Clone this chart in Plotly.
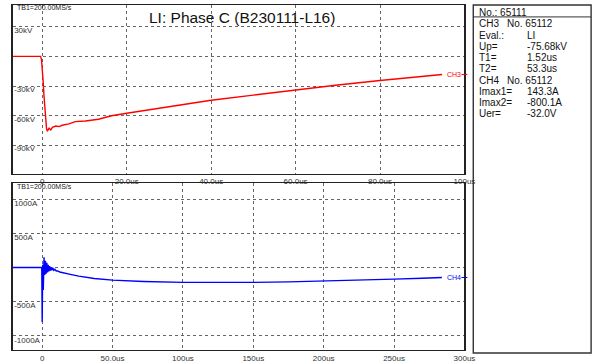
import plotly.graph_objects as go

W, H = 608, 363

# ---------------- data ----------------
t_ch3 = [-7, -0.4, -0.2, 0.0, 0.2, 0.4, 0.6, 0.8, 1.0, 1.2, 1.6, 2.0, 2.4, 3.2, 4.0, 4.7,
         6.3, 7.8, 10.2, 13.3, 16.4, 20, 30, 40, 50, 60, 70, 80, 90, 94.7]
v_ch3 = [0, 0, -3, -12, -25, -40, -55, -67, -73, -75.7, -72.7, -74.4, -71.7, -70.4, -71, -69.7,
         -68.3, -66, -65.3, -63.6, -60, -57.5, -51, -44.4, -39.2, -33.9, -29, -24.4, -20.3, -18.3]

t_ch4 = [-21, -0.3, 0.0, 0.4, 0.8, 1.3, 1.8, 2.3, 2.8, 3.3, 3.8, 4.3, 4.8, 5.3, 5.8, 6.3, 6.8,
         7.5, 8.2, 9.0, 10, 11, 12.5, 14, 20, 26, 37, 50, 72, 100, 125, 150, 175, 200, 225,
         250, 270, 284]
i_ch4 = [0, 0, -800, 40, -330, 150, -110, 100, -90, 70, -70, 40, -55, 20, -45, 5, -40,
         -5, -40, -25, -50, -50, -65, -73, -100, -126, -160, -184, -204, -218, -222, -218,
         -210, -199, -186, -170, -157, -146]

x1_ticks = [0, 20, 40, 60, 80, 100]
x1_text = ["0", "20.0us", "40.0us", "60.0us", "80.0us", "100us"]
y1_ticks = [30, 0, -30, -60, -90]
y1_text = ["30kV", "", "-30kV", "-60kV", "-90kV"]

x2_ticks = [0, 50, 100, 150, 200, 250, 300]
x2_text = ["0", "50.0us", "100us", "150us", "200us", "250us", "300us"]
y2_ticks = [1000, 500, 0, -500, -1000]
y2_text = ["1000A", "500A", "", "-500A", "-1000A"]

title = "LI: Phase C (B230111-L16)"
header = "TB1=200.00MS/s"
panel_left = ["CH3", "Eval.:", "Up=", "T1=", "T2=", "CH4", "Imax1=", "Imax2=", "Uer="]
panel_right = ["No. 65112", "LI", "-75.68kV", "1.52us", "53.3us", "No. 65112", "143.3A", "-800.1A", "-32.0V"]
panel_top = "No.: 65111"

# ---------------- layout helpers ----------------
def px(x):
    return x / W

def py(y):
    return 1 - y / H

FONT = "Arial, Liberation Sans, sans-serif"

fig = go.Figure()
fig.add_trace(go.Scatter(x=t_ch3, y=v_ch3, mode="lines", line=dict(color="#ff0000", width=1.4),
                         xaxis="x", yaxis="y", showlegend=False, hoverinfo="skip"))
fig.add_trace(go.Scatter(x=t_ch4, y=i_ch4, mode="lines", line=dict(color="#0000ff", width=1.4),
                         xaxis="x2", yaxis="y2", showlegend=False, hoverinfo="skip"))

common_x = dict(showgrid=True, gridcolor="#666", griddash="dot", gridwidth=1,
                zeroline=False, showline=True, linecolor="#222", linewidth=1.3, mirror=True,
                ticks="", tickfont=dict(family=FONT, size=8, color="#333"), tickmode="array")
common_y = dict(showgrid=True, gridcolor="#666", griddash="dot", gridwidth=1,
                zeroline=False, showline=True, linecolor="#222", linewidth=1.3, mirror=True,
                ticks="", tickfont=dict(family=FONT, size=8, color="#333"), tickmode="array",
                ticklabelposition="inside", ticklabelstandoff=0)

fig.update_layout(
    width=W, height=H, autosize=False, margin=dict(l=0, r=0, t=0, b=0),
    paper_bgcolor="white", plot_bgcolor="white",
    xaxis=dict(common_x, domain=[px(13), px(473)], range=[-7, 100], anchor="y",
               tickvals=x1_ticks, ticktext=x1_text),
    yaxis=dict(common_y, domain=[py(174.5), py(5)], range=[-118.5, 52], anchor="x",
               tickvals=y1_ticks, ticktext=y1_text, ticklabelshift=3),
    xaxis2=dict(common_x, domain=[px(13), px(473)], range=[-20.9, 300], anchor="y2",
                tickvals=x2_ticks, ticktext=x2_text),
    yaxis2=dict(common_y, domain=[py(352), py(184)], range=[-1210, 1240], anchor="x2",
                tickvals=y2_ticks, ticktext=y2_text, ticklabelshift=4),
)

def txt(text, x, y, size, color="#111", xanchor="left", yref="paper"):
    return dict(text=text, x=x, y=y, xref="paper", yref=yref, xanchor=xanchor, yanchor="middle",
                showarrow=False, font=dict(family=FONT, size=size, color=color))

ann = []
ann.append(txt(title, px(246), py(18), 15.5, xanchor="center"))
ann.append(txt(header, px(15), py(8), 7, color="#222"))
ann.append(txt(header, px(15), py(188), 7, color="#222"))
# channel labels at line ends
ann.append(txt("CH3", px(453), v_ch3[-1], 7, color="#ff0000", yref="y"))
ann.append(txt("CH4", px(453), i_ch4[-1], 7, color="#0000ff", yref="y2"))

# info panel
ann.append(txt(panel_top, px(486), py(12.3), 10))
for k, (a, b) in enumerate(zip(panel_left, panel_right)):
    yy = 24 + k * 11.3
    bx = 514 if a.startswith("CH") else 535
    ann.append(txt(a, px(486), py(yy), 10))
    ann.append(txt(b, px(bx), py(yy), 10))
fig.update_layout(annotations=ann)

shapes = [
    dict(type="rect", xref="paper", yref="paper", x0=px(482), x1=px(602), y0=py(355), y1=py(5),
         line=dict(color="#333", width=1.4)),
    dict(type="line", xref="paper", yref="paper", x0=px(482), x1=px(602), y0=py(17), y1=py(17),
         line=dict(color="#333", width=1)),
    dict(type="line", xref="paper", yref="y", x0=px(470), x1=px(476), y0=v_ch3[-1], y1=v_ch3[-1],
         line=dict(color="#ff0000", width=1)),
    dict(type="line", xref="paper", yref="y2", x0=px(470), x1=px(476), y0=i_ch4[-1], y1=i_ch4[-1],
         line=dict(color="#0000ff", width=1)),
]
fig.update_layout(shapes=shapes)

fig.write_html("out.html",
               config={"displayModeBar": False, "responsive": False, "staticPlot": True},
               post_script="document.body.style.margin='0';document.body.style.overflow='hidden';")
